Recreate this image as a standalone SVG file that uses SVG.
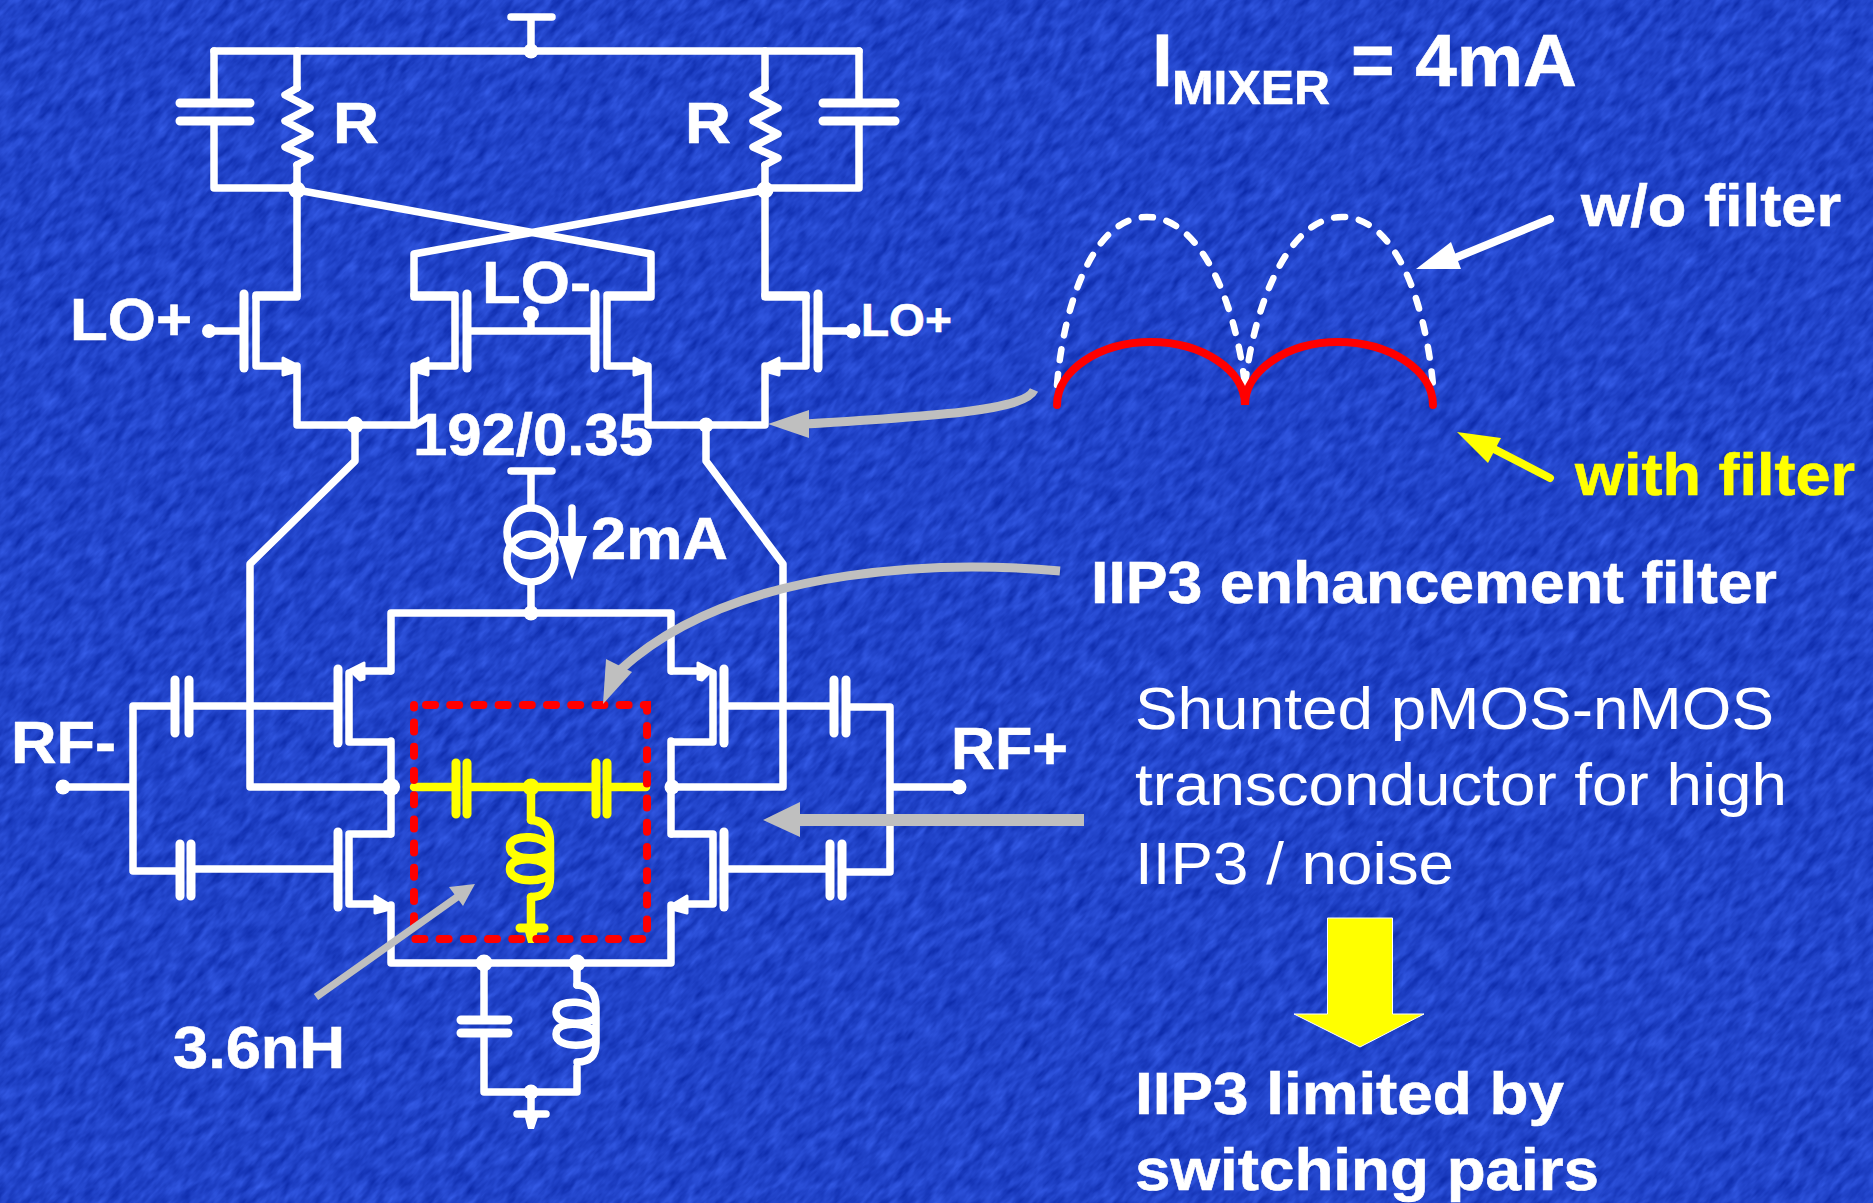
<svg xmlns="http://www.w3.org/2000/svg" width="1873" height="1203" viewBox="0 0 1873 1203">
<style>
.w{fill:none;stroke:#fff;stroke-width:7.5;stroke-linecap:round;stroke-linejoin:round}
.b{fill:none;stroke:#fff;stroke-width:9;stroke-linecap:round}
.y{fill:none;stroke:#ff0;stroke-width:8.500;stroke-linecap:round;stroke-linejoin:round}
.yb{fill:none;stroke:#ff0;stroke-width:9;stroke-linecap:round}
.d{fill:#fff}
.ga{fill:none;stroke:#bfbfbf;stroke-linecap:butt}
.gh{fill:#bfbfbf}
text{font-family:"Liberation Sans",Arial,sans-serif;fill:#fff}
.t{font-weight:700}
.t text{stroke:#fff;stroke-width:.6}
</style>
<defs>
<filter id="tex" x="0" y="0" width="100%" height="100%" color-interpolation-filters="sRGB">
<feTurbulence type="fractalNoise" baseFrequency="0.05 0.13" numOctaves="3" seed="7"/>
<feColorMatrix type="matrix" values="0.2 0 0 0 0.03  0.24 0 0 0 0.145  0.3 0 0 0 0.64  0 0 0 0 1"/>
</filter>
<g id="mosN">
<path class="b" d="M0 -37V37"/>
<path class="w" d="M53 -36H12V35H45"/>
<path class="d" stroke="#fff" stroke-width="3" stroke-linejoin="round" d="M39 27L53 34L53 40L39 44Z"/>
</g>
<g id="mosPu">
<path class="b" d="M0 -37V37"/>
<path class="w" d="M52 -35H22M11 -33V36H52"/>
<path class="d" stroke="#fff" stroke-width="3" stroke-linejoin="round" d="M12 -36L26 -43V-27L22 -26Z"/>
</g>
<g id="mosNl">
<path class="b" d="M0 -37V38"/>
<path class="w" d="M52 -35H11V35H40"/>
<path class="d" stroke="#fff" stroke-width="3" stroke-linejoin="round" d="M37 27L52 36L52 40L37 44Z"/>
</g>
<path id="coil" d="M531 820Q550 821 550 842V850C550 860 510 863 510 847C510 832 550 835 550 850V872C550 882 510 885 510 869C510 854 550 857 550 872V878Q550 897 531 897"/>
</defs>

<rect id="background" x="-600" y="-600" width="3100" height="2400" fill="#2244cc" filter="url(#tex)" transform="rotate(-48 936 600)"/>

<g id="connectors">
<path class="w" d="M214 51H859M531 51V17M511 17H552"/>
<path class="w" d="M214 103V51M214 121V188H297M859 103V51M859 121V188H765"/>
<path class="w" d="M297 51V88M297 165V297H256M765 51V88M765 165V297H806"/>
<path class="w" d="M297 190L651 254V297H608M765 190L414 254V297H454"/>
<path class="w" d="M297 366V425H414V366M648 366V425H765V366"/>
<path class="w" d="M209 331H244M467 331H595M818 331H853M531 315V331"/>
<path class="w" d="M355 425V461L250 564V787H391M706 425V461L783 564V787H671"/>
<path class="w" d="M531 471V507M531 583V613M511 471H552"/>
<path class="w" d="M391 671V613H671V671M391 741V834M671 741V834M391 905V963H671V905"/>
<path class="w" d="M338 706H189M175 706H133V871H180M191 869H338M63 787H133"/>
<path class="w" d="M724 706H834M846 707H890V872H842M830 869H724M890 787H959"/>
<path class="w" d="M484 963V1020M484 1033V1092H577V1067M577 963V985M531 1092V1114"/>
<path class="w" d="M517 1114H546"/>
<path class="d" d="M524 1114H539L534 1129H528Z"/>
</g>

<g id="junctions">
<circle class="d" cx="531" cy="51" r="7.500"/><circle class="d" cx="297" cy="190" r="8.500"/><circle class="d" cx="765" cy="190" r="8.500"/>
<circle class="d" cx="531" cy="314" r="8"/><circle class="d" cx="355" cy="425" r="8.500"/><circle class="d" cx="706" cy="425" r="7.500"/>
<circle class="d" cx="209" cy="331" r="7"/><circle class="d" cx="853" cy="331" r="7.500"/>
<circle class="d" cx="531" cy="613" r="7.500"/><circle class="d" cx="391" cy="787" r="9"/><circle class="d" cx="672" cy="787" r="7.500"/>
<circle class="d" cx="63" cy="787" r="7.500"/><circle class="d" cx="959" cy="787" r="7.500"/>
<circle class="d" cx="484" cy="963" r="8.500"/><circle class="d" cx="577" cy="963" r="8.500"/><circle class="d" cx="531" cy="1092" r="7.500"/>
</g>

<g id="R1"><path class="w" d="M297 88L285 95L310 108L285 121L310 134L285 147L310 158L297 165"/></g>
<g id="R2"><path class="w" d="M765 88L753 95L778 108L753 121L778 134L753 147L778 158L765 165"/></g>
<g id="C1"><path class="b" d="M180 103H250M180 121H250"/></g>
<g id="C2"><path class="b" d="M823 103H895M823 121H895"/></g>
<g id="M1"><use href="#mosN" transform="translate(244,331)"/></g>
<g id="M2"><use href="#mosN" transform="translate(467,331) scale(-1,1)"/></g>
<g id="M3"><use href="#mosN" transform="translate(595,331)"/></g>
<g id="M4"><use href="#mosN" transform="translate(818,331) scale(-1,1)"/></g>
<g id="M5"><use href="#mosPu" transform="translate(338,706)"/></g>
<g id="M6"><use href="#mosPu" transform="translate(724,706) scale(-1,1)"/></g>
<g id="M7"><use href="#mosNl" transform="translate(338,869)"/></g>
<g id="M8"><use href="#mosNl" transform="translate(724,869) scale(-1,1)"/></g>
<g id="I1">
<circle class="w" cx="531" cy="532" r="24" stroke-width="6"/><circle class="w" cx="531" cy="558" r="24" stroke-width="6"/>
<path class="w" d="M572 508V545"/><path class="d" d="M558 536H587L572 580Z"/>
</g>
<g id="C3"><path class="b" d="M175 680V733M189 680V733"/></g>
<g id="C4"><path class="b" d="M180 844V896M191 844V896"/></g>
<g id="C5"><path class="b" d="M834 680V733M846 680V733"/></g>
<g id="C6"><path class="b" d="M830 844V896M842 844V896"/></g>
<g id="C7"><path class="b" d="M461 1020H508M461 1033H508"/></g>
<g id="L2"><use href="#coil" class="w" transform="translate(46,165)"/></g>
<g id="filter">
<path class="y" d="M414 787H456M467 787H596M607 787H646M531 787V820M531 897V928"/>
<circle cx="531" cy="787" r="8.500" fill="#ff0"/>
<path class="yb" d="M456 763V814M467 763V814M596 763V814M607 763V814M520 928H544"/>
<path fill="#ff0" d="M524 928H539L534 943H528Z"/>
<use href="#coil" class="y"/>
<path fill="none" stroke="#f00" stroke-width="8" stroke-linecap="round" stroke-dasharray="9 15.2" d="M426 705H647V939H414V705"/>
</g>

<g id="waveforms">
<path fill="none" stroke="#fff" stroke-width="6.500" stroke-linecap="round" stroke-dasharray="11 14" d="M1057 385C1064 300 1095 217 1147 217C1200 217 1235 300 1245 385M1245 385C1255 300 1290 217 1342 217C1395 217 1425 300 1433 385"/>
<path fill="none" stroke="#f00" stroke-width="8" stroke-linecap="round" d="M1057 405C1057 370 1100 342 1151 342C1202 342 1245 370 1245 405C1245 370 1288 342 1338 342C1389 342 1433 370 1433 405"/>
</g>

<g id="arrows">
<path class="ga" stroke-width="9" d="M1034 390C1025 410 940 416 805 424" stroke-linecap="round"/><path class="gh" d="M768 424L809 410V438Z"/>
<path class="ga" stroke-width="9" d="M1060 571C960 562 740 560 620 670" stroke-linecap="round"/><path class="gh" d="M603 704L606 659L632 672Z"/>
<path class="ga" stroke-width="12" d="M1084 820H795"/><path class="gh" d="M763 820L800 802V837Z"/>
<path class="ga" stroke-width="7.500" d="M316 997L460 895"/><path class="gh" d="M475 884L449 887L463 906Z"/>
<path fill="none" stroke="#fff" stroke-width="8" stroke-linecap="round" d="M1550 219L1450 260"/><path class="d" d="M1416 269L1451 242L1461 269Z"/>
<path fill="none" stroke="#ff0" stroke-width="8" stroke-linecap="round" d="M1550 478L1490 447"/><path fill="#ff0" d="M1457 432L1501 438L1488 463Z"/>
<path fill="#ff0" stroke="#fff" stroke-width="1" d="M1327.500 918H1392.500V1014H1424L1360 1047L1294 1014H1327.500Z"/>
</g>

<g id="labels" class="t">
<text x="1152" y="86" font-size="75">I</text>
<text x="1172" y="104" font-size="49" textLength="158" lengthAdjust="spacingAndGlyphs">MIXER</text>
<text x="1351" y="86" font-size="75" textLength="226" lengthAdjust="spacingAndGlyphs">= 4mA</text>
<text x="1581" y="226" font-size="60" textLength="260" lengthAdjust="spacingAndGlyphs">w/o filter</text>
<text x="1575" y="495" font-size="60" textLength="280" lengthAdjust="spacingAndGlyphs" style="fill:#ff0;stroke:#ff0">with filter</text>
<text x="1091" y="603" font-size="60" textLength="686" lengthAdjust="spacingAndGlyphs">IIP3 enhancement filter</text>
<text x="1135" y="1114" font-size="60" textLength="429" lengthAdjust="spacingAndGlyphs">IIP3 limited by</text>
<text x="1135" y="1190" font-size="60" textLength="464" lengthAdjust="spacingAndGlyphs">switching pairs</text>
<text x="333" y="143" font-size="58" textLength="46" lengthAdjust="spacingAndGlyphs">R</text>
<text x="685" y="143" font-size="58" textLength="46" lengthAdjust="spacingAndGlyphs">R</text>
<text x="70" y="340" font-size="60" textLength="122" lengthAdjust="spacingAndGlyphs">LO+</text>
<text x="482" y="303" font-size="60" textLength="109" lengthAdjust="spacingAndGlyphs">LO-</text>
<text x="861" y="336" font-size="46">LO+</text>
<text x="413" y="455" font-size="60" textLength="240" lengthAdjust="spacingAndGlyphs">192/0.35</text>
<text x="591" y="559" font-size="60" textLength="137" lengthAdjust="spacingAndGlyphs">2mA</text>
<text x="173" y="1068" font-size="60" textLength="172" lengthAdjust="spacingAndGlyphs">3.6nH</text>
<text x="11" y="763" font-size="60" textLength="105" lengthAdjust="spacingAndGlyphs">RF-</text>
<text x="951" y="769" font-size="60" textLength="117" lengthAdjust="spacingAndGlyphs">RF+</text>
</g>
<g id="notes">
<text x="1135" y="729" font-size="60" textLength="639" lengthAdjust="spacingAndGlyphs">Shunted pMOS-nMOS</text>
<text x="1135" y="805" font-size="60" textLength="652" lengthAdjust="spacingAndGlyphs">transconductor for high</text>
<text x="1135" y="884" font-size="60" textLength="319" lengthAdjust="spacingAndGlyphs">IIP3 / noise</text>
</g>
</svg>
